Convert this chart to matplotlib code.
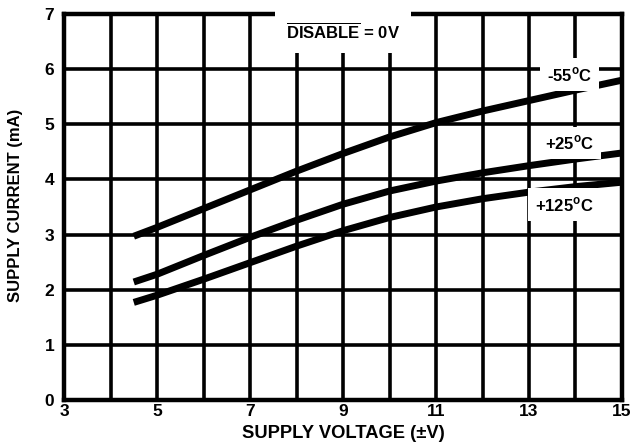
import numpy as np
import matplotlib
matplotlib.use("Agg")
import matplotlib.pyplot as plt
from matplotlib.ticker import MultipleLocator

plt.rcParams['font.family'] = ['Liberation Sans', 'DejaVu Sans']
plt.rcParams['font.weight'] = 'bold'
plt.rcParams['mathtext.fontset'] = 'custom'
plt.rcParams['mathtext.rm'] = 'Liberation Sans:bold'
plt.rcParams['mathtext.bf'] = 'Liberation Sans:bold'

# supply voltage (+/-V) and supply current (mA)
volts = [4.5, 5, 6, 7, 8, 9, 10, 11, 12, 13, 14, 15]
i_m55 = [2.97, 3.13, 3.47, 3.81, 4.15, 4.47, 4.77, 5.03, 5.24, 5.43, 5.62, 5.80]
i_p25 = [2.14, 2.28, 2.62, 2.95, 3.26, 3.55, 3.79, 3.97, 4.12, 4.25, 4.37, 4.48]
i_p125 = [1.77, 1.90, 2.19, 2.49, 2.79, 3.07, 3.31, 3.50, 3.65, 3.77, 3.87, 3.95]

curve_labels = [r'-55$^{\mathrm{o}}$C', r'+25$^{\mathrm{o}}$C', r'+125$^{\mathrm{o}}$C']
label_x = [13.87, 13.87, 13.76]
label_y = [5.90, 4.66, 3.54]

x_ticks = [3, 5, 7, 9, 11, 13, 15]
y_ticks = [0, 1, 2, 3, 4, 5, 6, 7]

fig = plt.figure(figsize=(6.3, 4.45), dpi=100)
ax = fig.add_axes([0.1016, 0.1011, 0.8857, 0.8674])

ax.set_xlim(3, 15)
ax.set_ylim(0, 7)
ax.set_xticks(x_ticks)
ax.set_yticks(y_ticks)
ax.xaxis.set_minor_locator(MultipleLocator(1))
ax.yaxis.set_minor_locator(MultipleLocator(1))
ax.grid(True, which='both', color='black', linewidth=2.6)
ax.set_axisbelow(True)
ax.tick_params(which='both', length=0, labelsize=12.5)
ax.tick_params(axis='x', pad=3)
ax.tick_params(axis='y', pad=7)
for lab in ax.get_xticklabels() + ax.get_yticklabels():
    lab.set_fontweight('bold')
for sp in ax.spines.values():
    sp.set_linewidth(3.2)

for cur in [i_m55, i_p25, i_p125]:
    ax.plot(volts, cur, color='black', linewidth=5, solid_capstyle='butt', zorder=3)

for txt, lx, ly in zip(curve_labels, label_x, label_y):
    ax.text(lx, ly, txt, ha='center', va='center', fontsize=12, fontweight='bold',
            zorder=5, bbox=dict(facecolor='white', edgecolor='none', pad=5))

ax.text(9, 6.68, r'$\overline{\mathrm{DISABLE}}$ = 0V', ha='center', va='center',
        fontsize=12, fontweight='bold', zorder=5,
        bbox=dict(facecolor='white', edgecolor='none', pad=8))

ax.set_xlabel('SUPPLY VOLTAGE (±V)', fontsize=13.2, fontweight='bold', labelpad=4)
ax.set_ylabel('SUPPLY CURRENT (mA)', fontsize=12, fontweight='bold')
ax.yaxis.set_label_coords(-0.074, 0.505)

fig.savefig('out.png', dpi=100)
